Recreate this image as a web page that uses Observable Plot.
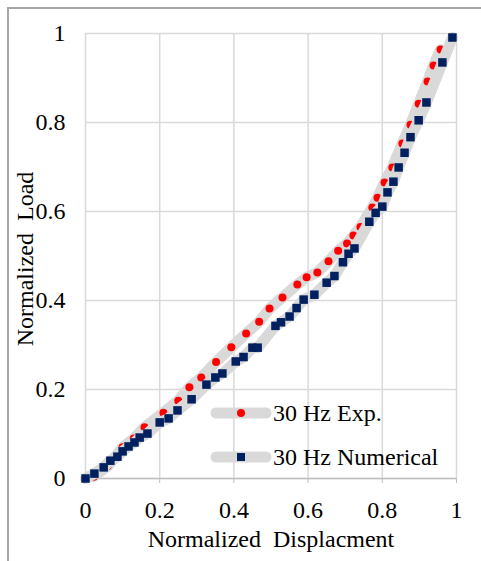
<!DOCTYPE html>
<html>
<head>
<meta charset="utf-8">
<script src="https://cdn.jsdelivr.net/npm/d3@7"></script>
<script src="https://cdn.jsdelivr.net/npm/@observablehq/plot@0.6"></script>
<style>
  html, body { margin: 0; padding: 0; background: #fff; }
  #wrap { position: relative; width: 481px; height: 561px; overflow: hidden; }
  #border { position: absolute; left: 7px; top: 7px; width: 500px; height: 600px;
            border-top: 2px solid #a6a6a6; border-left: 2px solid #a6a6a6; }
  #chart { position: absolute; left: 0; top: 0; }
  #legend { position: absolute; left: 0; top: 0; }
  text { white-space: pre; }
</style>
</head>
<body>
<div id="wrap"><div id="border"></div><div id="chart"></div><svg id="legend" width="481" height="561"></svg></div>
<script>
// ---- data ----
const expX = [0.022, 0.06, 0.1, 0.13, 0.159, 0.21, 0.25, 0.28, 0.312, 0.352, 0.393, 0.433, 0.468, 0.496, 0.531, 0.571, 0.596, 0.625, 0.655, 0.681, 0.705, 0.722, 0.741, 0.773, 0.787, 0.806, 0.827, 0.854, 0.876, 0.898, 0.922, 0.938, 0.957];
const expY = [0.004, 0.028, 0.07, 0.09, 0.115, 0.148, 0.175, 0.205, 0.227, 0.262, 0.295, 0.326, 0.352, 0.382, 0.407, 0.436, 0.452, 0.463, 0.488, 0.512, 0.528, 0.546, 0.565, 0.609, 0.631, 0.665, 0.699, 0.753, 0.795, 0.842, 0.892, 0.928, 0.964];
const numX = [0, 0.024, 0.049, 0.067, 0.086, 0.10, 0.116, 0.132, 0.146, 0.167, 0.2, 0.224, 0.248, 0.286, 0.326, 0.35, 0.369, 0.405, 0.426, 0.45, 0.464, 0.512, 0.527, 0.55, 0.569, 0.588, 0.617, 0.65, 0.671, 0.694, 0.709, 0.725, 0.765, 0.782, 0.80, 0.814, 0.83, 0.844, 0.86, 0.876, 0.898, 0.919, 0.962, 0.989];
const numY = [0, 0.011, 0.025, 0.04, 0.049, 0.061, 0.072, 0.081, 0.092, 0.101, 0.126, 0.135, 0.153, 0.178, 0.211, 0.227, 0.236, 0.263, 0.273, 0.294, 0.294, 0.343, 0.351, 0.364, 0.383, 0.402, 0.413, 0.44, 0.455, 0.486, 0.505, 0.517, 0.577, 0.597, 0.611, 0.643, 0.667, 0.699, 0.732, 0.767, 0.805, 0.845, 0.935, 0.991];
const xTicks = [0, 0.2, 0.4, 0.6, 0.8, 1];
const yTicks = [0, 0.2, 0.4, 0.6, 0.8, 1];
const xTickLabels = ["0", "0.2", "0.4", "0.6", "0.8", "1"];
const yTickLabels = ["0", "0.2", "0.4", "0.6", "0.8", "1"];
const seriesNames = ["30 Hz Exp.", "30 Hz Numerical"];
const xTitle = "Normalized  Displacment";
const yTitle = "Normalized  Load";

const exp = expX.map((x, i) => ({x, y: expY[i]}));
const num = numX.map((x, i) => ({x, y: numY[i]}));

const GRID = "#d9d9d9", BAND = "#d9d9d9", RED = "#ff0000", NAVY = "#002060";
const FONT = "'Liberation Serif', 'Times New Roman', serif";

const chart = Plot.plot({
  width: 481, height: 561,
  marginLeft: 85, marginRight: 25, marginTop: 33, marginBottom: 83,
  style: {fontFamily: FONT, fontSize: "24px", color: "#000", background: "transparent"},
  x: {domain: [0, 1]},
  y: {domain: [0, 1]},
  marks: [
    Plot.gridX(xTicks, {stroke: GRID, strokeOpacity: 1, strokeWidth: 1.5}),
    Plot.gridY(yTicks, {stroke: GRID, strokeOpacity: 1, strokeWidth: 1.5}),
    Plot.ruleY([0], {stroke: "#bfbfbf", strokeWidth: 1.5}),
    Plot.axisX(xTicks, {tickSize: 5, tickPadding: 17, stroke: "#bfbfbf", tickFormat: (d) => xTickLabels[xTicks.indexOf(d)], fill: "#000", label: null}),
    Plot.axisY(yTicks, {tickSize: 0, tickPadding: 20, tickFormat: (d) => yTickLabels[yTicks.indexOf(d)], fill: "#000", label: null}),
    Plot.line(exp, {x: "x", y: "y", stroke: BAND, strokeWidth: 11, strokeLinejoin: "round", strokeLinecap: "round"}),
    Plot.dot(exp, {x: "x", y: "y", r: 4, fill: RED, stroke: "none"}),
    Plot.line(num, {x: "x", y: "y", stroke: BAND, strokeWidth: 11, strokeLinejoin: "round", strokeLinecap: "round"}),
    Plot.dot(num, {x: "x", y: "y", symbol: "square", r: 4.8, fill: NAVY, stroke: "none"}),
    Plot.text([xTitle], {text: d => d, frameAnchor: "bottom", dy: 61, textAnchor: "middle", lineAnchor: "middle", fill: "#000"}),
    Plot.text([yTitle], {text: d => d, frameAnchor: "left", dx: -60, dy: 3, rotate: -90, textAnchor: "middle", lineAnchor: "middle", fill: "#000"})
  ]
});
document.getElementById("chart").appendChild(chart);

// ---- legend (inside plot, lower right) ----
const lg = d3.select("#legend").style("font-family", FONT).style("font-size", "24px");
const rows = [
  {name: seriesNames[0], cy: 413, kind: "circle"},
  {name: seriesNames[1], cy: 457, kind: "square"}
];
rows.forEach(r => {
  lg.append("line").attr("x1", 216).attr("x2", 266).attr("y1", r.cy).attr("y2", r.cy)
    .attr("stroke", BAND).attr("stroke-width", 11).attr("stroke-linecap", "round");
  if (r.kind === "circle") {
    lg.append("circle").attr("cx", 241).attr("cy", r.cy).attr("r", 4).attr("fill", RED);
  } else {
    lg.append("rect").attr("x", 237).attr("y", r.cy - 4).attr("width", 8).attr("height", 8).attr("fill", NAVY);
  }
  lg.append("text").attr("x", 273).attr("y", r.cy).attr("dy", "0.35em").attr("fill", "#000").text(r.name);
});
</script>
</body>
</html>
